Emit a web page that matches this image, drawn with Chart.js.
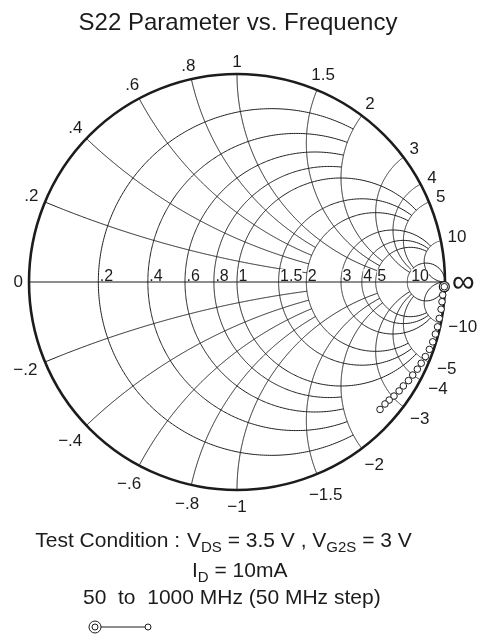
<!DOCTYPE html>
<html>
<head>
<meta charset="utf-8">
<title>S22 Parameter vs. Frequency</title>
<script src="https://cdn.jsdelivr.net/npm/chart.js@4.4.1/dist/chart.umd.min.js"></script>
<style>
    html, body { margin: 0; padding: 0; background: #fff; }
    canvas { display: block; }
</style>
</head>
<body>
<canvas id="s22Chart" width="480" height="637"></canvas>
<script>
// S22, 50 to 1000 MHz in 50 MHz steps (magnitude, angle in degrees)
const freqMHz = [50, 100, 150, 200, 250, 300, 350, 400, 450, 500, 550, 600, 650, 700, 750, 800, 850, 900, 950, 1000];
const s22Mag = [0.997, 0.991, 0.990, 0.990, 0.988, 0.988, 0.986, 0.984, 0.980, 0.974, 0.968, 0.963, 0.956, 0.951, 0.943, 0.939, 0.933, 0.926, 0.922, 0.921];
const s22Ang = [-1.3, -3.6, -5.5, -7.6, -10.2, -12.6, -14.7, -17.0, -19.3, -21.6, -23.8, -25.8, -27.9, -29.9, -32.0, -33.9, -36.0, -37.8, -39.5, -41.7];

// smith chart grid values (normalised resistance / reactance)
const resistanceTicks = [0.2, 0.4, 0.6, 0.8, 1, 1.5, 2, 3, 4, 5, 10];
const reactanceTicks = [0.2, 0.4, 0.6, 0.8, 1, 1.5, 2, 3, 4, 5, 10];
const resistanceLabels = ['.2', '.4', '.6', '.8', '1', '1.5', '2', '3', '4', '5', '10'];
const reactanceLabels = ['.2', '.4', '.6', '.8', '1', '1.5', '2', '3', '4', '5', '10'];
// compressed grid: each circle / arc stops at the next coarser boundary
const circleXLimit = [2, 2, 2, 2, 5, 5, 5, 10, 10, 10, Infinity];
const arcRLimit = [2, 2, 2, 2, 5, 5, 5, 10, 10, 10, Infinity];

const FONT = "'Liberation Sans', Arial, Helvetica, sans-serif";
const INK = '#1c1c1c';

function gammaOf(r, x) {
    const d = (r + 1) * (r + 1) + x * x;
    return { x: (r * r + x * x - 1) / d, y: 2 * x / d };
}

const tracePoints = s22Mag.map((m, i) => {
    const a = s22Ang[i] * Math.PI / 180;
    return { x: m * Math.cos(a), y: m * Math.sin(a) };
});

const smithGrid = {
    id: 'smithGrid',
    beforeDatasetsDraw(chart) {
        const ctx = chart.ctx;
        const sx = chart.scales.x, sy = chart.scales.y;
        const cx = sx.getPixelForValue(0), cy = sy.getPixelForValue(0);
        const R = sx.getPixelForValue(1) - cx;
        const toPx = g => [sx.getPixelForValue(g.x), sy.getPixelForValue(g.y)];

        function stroke(pts) {
            ctx.beginPath();
            pts.forEach((p, i) => {
                const [X, Y] = toPx(p);
                if (i === 0) ctx.moveTo(X, Y); else ctx.lineTo(X, Y);
            });
            ctx.stroke();
        }

        ctx.save();
        ctx.strokeStyle = INK;
        ctx.lineWidth = 1;
        const N = 400;

        // constant resistance circles
        resistanceTicks.forEach((r, i) => {
            const tMax = Math.atan(circleXLimit[i]) - 1e-9;
            const pts = [];
            for (let k = 0; k <= N; k++) {
                const t = -tMax + 2 * tMax * k / N;
                pts.push(gammaOf(r, Math.tan(t)));
            }
            stroke(pts);
        });

        // constant reactance arcs
        reactanceTicks.forEach((x, i) => {
            const tMax = Math.atan(arcRLimit[i]) - 1e-9;
            [1, -1].forEach(sign => {
                const pts = [];
                for (let k = 0; k <= N; k++) {
                    pts.push(gammaOf(Math.tan(tMax * k / N), sign * x));
                }
                stroke(pts);
            });
        });

        // real axis
        stroke([{ x: -1, y: 0 }, { x: 1, y: 0 }]);

        // outer circle
        ctx.lineWidth = 2.6;
        ctx.beginPath();
        ctx.arc(cx, cy, R, 0, Math.PI * 2);
        ctx.stroke();

        // resistance labels along the axis
        ctx.font = '16px ' + FONT;
        ctx.textAlign = 'left';
        ctx.textBaseline = 'alphabetic';
        resistanceTicks.forEach((r, i) => {
            const [X] = toPx(gammaOf(r, 0));
            const txt = resistanceLabels[i];
            const w = ctx.measureText(txt).width;
            const left = X + (r >= 10 ? 4 : 1.5);
            ctx.fillStyle = '#fff';
            ctx.fillRect(left, cy - 13, w, 12);
            ctx.fillStyle = INK;
            ctx.fillText(txt, left, cy - 1.5);
        });

        // reactance labels outside the circle
        ctx.font = '17px ' + FONT;
        ctx.textAlign = 'center';
        ctx.textBaseline = 'middle';
        const place = (txt, g, neg) => {
            const th = Math.atan2(g.y, g.x);
            const w = ctx.measureText(txt).width / 2;
            const h = 6;
            const d = R + 6 + w * Math.abs(Math.cos(th)) + h * Math.abs(Math.sin(th)) + (neg ? 5 * Math.abs(Math.sin(th)) : 0);
            ctx.fillText(txt, cx + d * Math.cos(th), cy - d * Math.sin(th));
        };
        ctx.fillStyle = INK;
        reactanceTicks.forEach((x, i) => {
            place(reactanceLabels[i], gammaOf(0, x), false);
            place('\u2212' + reactanceLabels[i], gammaOf(0, -x), true);
        });
        place('0', { x: -1, y: 0 }, false);
        ctx.font = '32px ' + FONT;
        ctx.textAlign = 'left';
        ctx.fillText('\u221E', cx + R + 7, cy + 1);
        ctx.restore();
    },
    afterDraw(chart) {
        const ctx = chart.ctx;
        ctx.save();
        ctx.fillStyle = INK;
        ctx.textBaseline = 'alphabetic';

        ctx.font = '24px ' + FONT;
        ctx.textAlign = 'center';
        ctx.fillText('S22 Parameter vs. Frequency', 238, 30);

        // runs of [text, subscript?]
        function runs(parts, x, y) {
            ctx.textAlign = 'left';
            parts.forEach(([t, sub]) => {
                ctx.font = (sub ? '15px ' : '21px ') + FONT;
                ctx.fillText(t, x, y + (sub ? 5 : 0));
                x += ctx.measureText(t).width;
            });
        }
        ctx.font = '21px ' + FONT;
        ctx.textAlign = 'right';
        ctx.fillText('Test Condition :', 180, 547);
        runs([['V', 0], ['DS', 1], [' = 3.5 V , V', 0], ['G2S', 1], [' = 3 V', 0]], 187, 547);
        runs([['I', 0], ['D', 1], [' = 10mA', 0]], 192, 577);
        runs([['50  to  1000 MHz (50 MHz step)', 0]], 83, 604);

        // legend key: start marker ... end marker
        ctx.strokeStyle = INK;
        ctx.lineWidth = 1;
        ctx.beginPath(); ctx.moveTo(101, 627); ctx.lineTo(145, 627); ctx.stroke();
        [[95, 6], [95, 3], [148, 3]].forEach(([x, r]) => {
            ctx.beginPath(); ctx.arc(x, 627, r, 0, Math.PI * 2);
            ctx.fillStyle = '#fff'; ctx.fill(); ctx.stroke();
        });
        ctx.restore();
    }
};

new Chart(document.getElementById('s22Chart'), {
    type: 'scatter',
    data: {
        datasets: [{
            label: 'S22',
            data: tracePoints,
            pointRadius: 3.3,
            pointBorderWidth: 1,
            pointBorderColor: INK,
            pointBackgroundColor: '#fff',
            showLine: false,
            clip: false
        }, {
            label: 'start',
            data: [tracePoints[0]],
            pointRadius: 5,
            pointBorderWidth: 1.2,
            pointBorderColor: INK,
            pointBackgroundColor: '#fff',
            clip: false
        }, {
            label: 'start inner',
            data: [tracePoints[0]],
            pointRadius: 2.4,
            pointBorderWidth: 1,
            pointBorderColor: INK,
            pointBackgroundColor: '#fff',
            clip: false
        }]
    },
    options: {
        responsive: false,
        maintainAspectRatio: false,
        animation: false,
        layout: { padding: { left: 29, right: 35, top: 74, bottom: 147 } },
        scales: {
            x: { type: 'linear', min: -1, max: 1, display: false },
            y: { type: 'linear', min: -1, max: 1, display: false }
        },
        plugins: {
            legend: { display: false },
            title: { display: false },
            tooltip: { enabled: false }
        },
        events: []
    },
    plugins: [smithGrid]
});
</script>
</body>
</html>
